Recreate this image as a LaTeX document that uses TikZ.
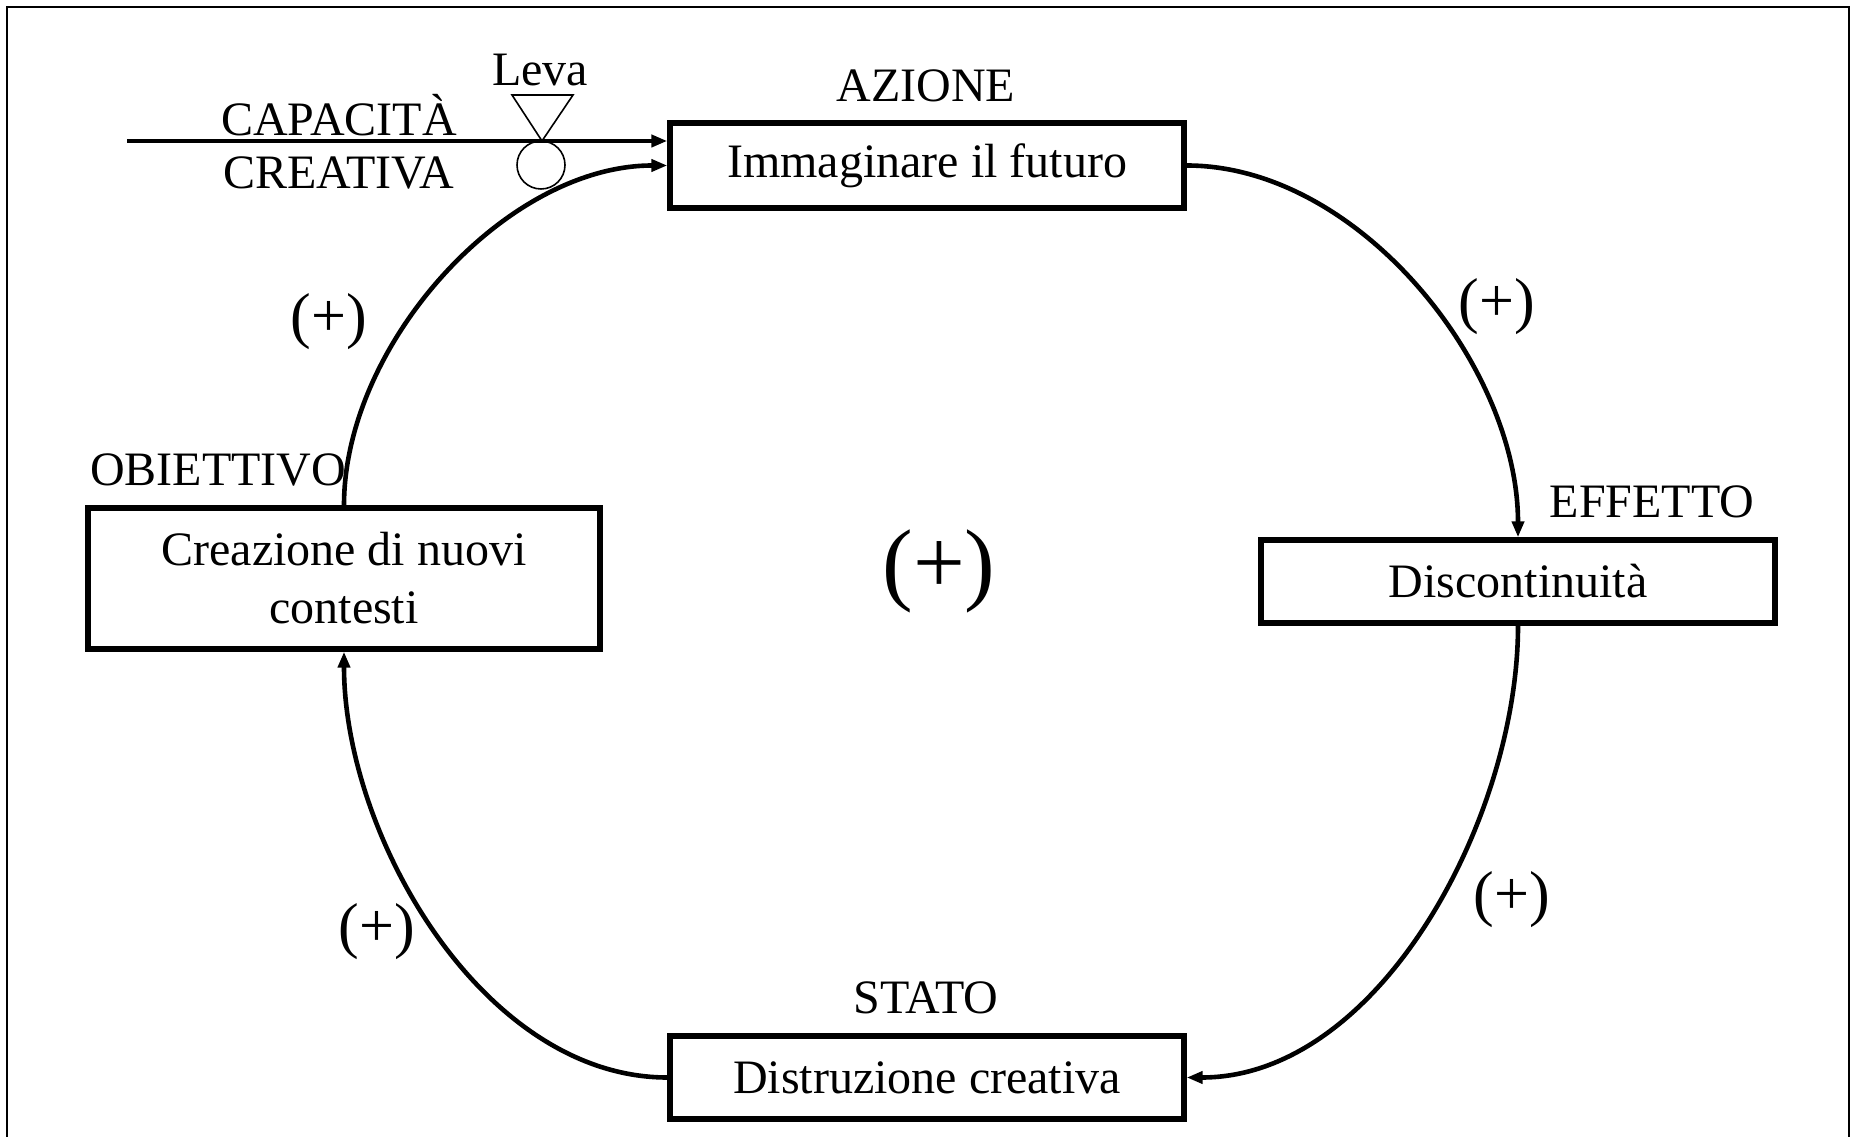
\documentclass[tikz,border=0pt]{standalone}
\usepackage{fontspec}
\setmainfont{Liberation Serif}
\usetikzlibrary{arrows.meta}

\begin{document}
\begin{tikzpicture}[x=0.5pt,y=0.5pt,
  box/.style={draw, line width=2.7pt, inner sep=0pt, align=center,
              minimum width=257pt, font=\fontsize{24}{29}\selectfont},
  lbl/.style={inner sep=0pt, font=\fontsize{24}{29}\selectfont},
  sign/.style={inner sep=0pt, font=\fontsize{31}{36}\selectfont},
  bigsign/.style={inner sep=0pt, font=\fontsize{46}{52}\selectfont},
  link/.style={line width=2.3pt, -{Triangle[length=8pt,width=6pt]}},
  loopcurve/.style={looseness=0.88},
  thin/.style={line width=0.8pt},
]
\useasboundingbox (0,0) rectangle (1857,1136);

% outer frame (open at the bottom)
\draw[line width=1.2pt] (7,-10) -- (7,1129) -- (1849,1129) -- (1849,-10);

% the four stages of the loop
\node[box, minimum height=42.5pt] (imm) at (927,970.5) {Immaginare il futuro};
\node[box, minimum height=41.5pt] (disc) at (1518,554.5) {Discontinuità};
\node[box, minimum height=41.5pt] (distr) at (927,58.5) {Distruzione creativa};
\node[box, minimum height=70.5pt, minimum width=256pt] (crea) at (344,557.5) {Creazione di nuovi\\contesti};

% stage captions
\node[lbl] (azione) at (926,1050) {AZIONE};
\node[lbl] (effetto) at (1652,634) {EFFETTO};
\node[lbl] (obiettivo) at (218,666) {OBIETTIVO};
\node[lbl] (stato) at (926,138) {STATO};

% external input with its lever
\node[lbl] (capacita) at (339,1021) {CAPACITÀ};
\node[lbl] (creativa) at (339,963) {CREATIVA};
\node[lbl] (leva) at (540,1066) {Leva};
\coordinate (src) at (127,995);
\coordinate (apex) at (542,995);
\draw[thin] (512,1041) -- (573,1041) -- (apex) -- cycle;
\node[thin, draw, circle, inner sep=0pt, minimum size=24pt] (valve) at (541,971) {};
\draw[link] (src) -- (src -| imm.west);

% feedback loop
\draw[link] (crea.north) to[out=90,in=180,loopcurve] (imm.west);
\draw[link] (imm.east) to[out=0,in=90,loopcurve] (disc.north);
\draw[link] (disc.south) to[out=-90,in=0,loopcurve] (distr.east);
\draw[link] (distr.west) to[out=180,in=-90,loopcurve] (crea.south);

% polarities
\node[sign] (p1) at (329,814) {(+)};
\node[sign] (p2) at (1497,829) {(+)};
\node[sign] (p3) at (1512,236) {(+)};
\node[sign] (p4) at (377,204) {(+)};
\node[bigsign] (loop) at (939,565) {(+)};
\end{tikzpicture}
\end{document}
